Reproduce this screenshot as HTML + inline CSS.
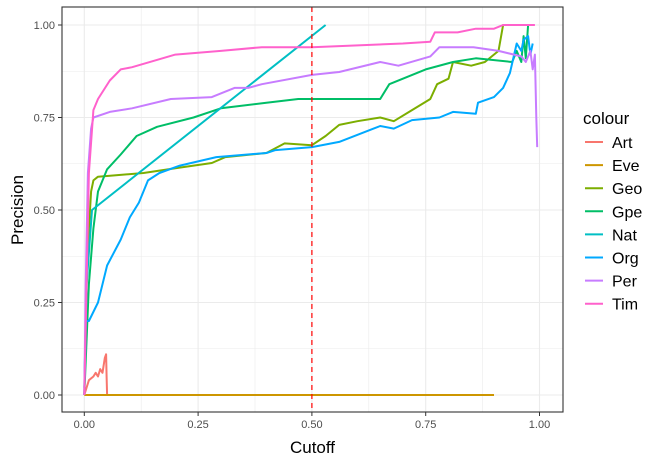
<!DOCTYPE html>
<html><head><meta charset="utf-8"><style>
body{margin:0;background:#fff;font-family:"Liberation Sans",sans-serif}
svg text{font-family:"Liberation Sans",sans-serif}
</style></head><body>
<svg id="c" width="665" height="460" viewBox="0 0 665 460"></svg>
<script>
const xTicks=[0,0.25,0.5,0.75,1];
const xTickLabels=["0.00","0.25","0.50","0.75","1.00"];
const yTicks=[0,0.25,0.5,0.75,1];
const yTickLabels=["0.00","0.25","0.50","0.75","1.00"];
const seriesNames=["Art","Eve","Geo","Gpe","Nat","Org","Per","Tim"];
const seriesColors=["#F8766D","#CD9600","#7CAE00","#00BE67","#00BFC4","#00A9FF","#C77CFF","#FF61CC"];
const artX=[0,0.005,0.01,0.02,0.025,0.03,0.035,0.04,0.045,0.048,0.049,0.05];
const artY=[0,0.02,0.04,0.05,0.06,0.05,0.07,0.06,0.1,0.11,0.05,0];
const eveX=[0,0.9];
const eveY=[0,0];
const geoX=[0,0.005,0.01,0.015,0.02,0.03,0.13,0.2,0.28,0.31,0.40,0.44,0.5,0.53,0.56,0.6,0.65,0.68,0.72,0.76,0.775,0.8,0.81,0.85,0.88,0.91,0.92,0.94];
const geoY=[0,0.3,0.45,0.55,0.58,0.59,0.60,0.613,0.627,0.643,0.654,0.68,0.675,0.70,0.73,0.74,0.75,0.74,0.77,0.80,0.84,0.855,0.90,0.89,0.90,0.93,1.0,1.0];
const gpeX=[0,0.01,0.02,0.03,0.05,0.08,0.115,0.16,0.24,0.30,0.40,0.47,0.65,0.67,0.75,0.81,0.86,0.94,0.95,0.96,0.965,0.97,0.975];
const gpeY=[0,0.3,0.45,0.55,0.61,0.65,0.70,0.725,0.75,0.775,0.79,0.80,0.80,0.84,0.88,0.90,0.91,0.90,0.93,0.90,0.97,0.91,1.0];
const natX=[0,0.005,0.017,0.53];
const natY=[0.02,0.3,0.50,1.0];
const orgX=[0,0.003,0.01,0.03,0.05,0.08,0.10,0.12,0.14,0.165,0.21,0.29,0.40,0.42,0.5,0.56,0.65,0.68,0.72,0.78,0.81,0.86,0.865,0.90,0.92,0.935,0.95,0.96,0.965,0.975,0.98,0.985];
const orgY=[0,0.2,0.2,0.25,0.35,0.42,0.48,0.52,0.58,0.60,0.62,0.643,0.654,0.662,0.67,0.684,0.727,0.72,0.743,0.75,0.765,0.76,0.79,0.805,0.83,0.87,0.95,0.93,0.96,0.97,0.92,0.95];
const perX=[0,0.003,0.008,0.015,0.02,0.056,0.105,0.19,0.28,0.33,0.36,0.39,0.5,0.56,0.65,0.69,0.76,0.78,0.855,0.91,0.96,0.97,0.98,0.985,0.99,0.993,0.995];
const perY=[0,0.3,0.6,0.72,0.75,0.765,0.775,0.80,0.805,0.83,0.83,0.84,0.865,0.873,0.90,0.89,0.915,0.94,0.94,0.93,0.915,0.90,0.93,0.88,0.92,0.75,0.67];
const timX=[0,0.005,0.01,0.02,0.03,0.056,0.08,0.105,0.2,0.3,0.39,0.5,0.7,0.76,0.77,0.82,0.86,0.9,0.92,0.99];
const timY=[0,0.3,0.6,0.77,0.8,0.85,0.88,0.886,0.92,0.93,0.94,0.94,0.95,0.955,0.98,0.98,0.99,0.99,1.0,1.0];
const seriesX=[artX,eveX,geoX,gpeX,natX,orgX,perX,timX];
const seriesY=[artY,eveY,geoY,gpeY,natY,orgY,perY,timY];
const cutoff=0.5;

const NS="http://www.w3.org/2000/svg";
const svg=document.getElementById("c");
const PL=62,PR=563,PT=7,PB=412;
const X0=84.3,X1=539.5,Y0=395,Y1=25;
function sx(v){return X0+v*(X1-X0);}
function sy(v){return Y0-v*(Y0-Y1);}
function mk(tag,attrs,parent){const e=document.createElementNS(NS,tag);for(const k in attrs)e.setAttribute(k,attrs[k]);(parent||svg).appendChild(e);return e;}

const grid=mk("g",{});


for(let i=0;i<xTicks.length;i++){
  mk("line",{x1:sx(xTicks[i]),x2:sx(xTicks[i]),y1:PT,y2:PB,stroke:"#ebebeb","stroke-width":1.1},grid);
  if(i<xTicks.length-1){const m=(xTicks[i]+xTicks[i+1])/2;mk("line",{x1:sx(m),x2:sx(m),y1:PT,y2:PB,stroke:"#ebebeb","stroke-width":0.6},grid);}
}
for(let i=0;i<yTicks.length;i++){
  mk("line",{x1:PL,x2:PR,y1:sy(yTicks[i]),y2:sy(yTicks[i]),stroke:"#ebebeb","stroke-width":1.1},grid);
  if(i<yTicks.length-1){const m=(yTicks[i]+yTicks[i+1])/2;mk("line",{x1:PL,x2:PR,y1:sy(m),y2:sy(m),stroke:"#ebebeb","stroke-width":0.6},grid);}
}

for(let s=0;s<seriesNames.length;s++){
  const pts=seriesX[s].map((x,i)=>sx(x).toFixed(1)+","+sy(seriesY[s][i]).toFixed(1)).join(" ");
  const p=mk("polyline",{points:pts,fill:"none",stroke:seriesColors[s],"stroke-width":2,"stroke-linejoin":"round"});
  
  
}

const cl=mk("line",{x1:sx(cutoff),x2:sx(cutoff),y1:PT,y2:PB,stroke:"#ff0000","stroke-width":1.2,"stroke-dasharray":"5,4"});



const frame=mk("rect",{x:PL,y:PT,width:PR-PL,height:PB-PT,fill:"none",stroke:"#333","stroke-width":1.1});



for(let i=0;i<xTicks.length;i++){
  mk("line",{x1:sx(xTicks[i]),x2:sx(xTicks[i]),y1:PB,y2:PB+4,stroke:"#333"});
  const t=mk("text",{x:sx(xTicks[i]),y:PB+16,"text-anchor":"middle","font-size":11,fill:"#4d4d4d"});
  t.textContent=xTickLabels[i];
  
  
}
for(let i=0;i<yTicks.length;i++){
  mk("line",{x1:PL-4,x2:PL,y1:sy(yTicks[i]),y2:sy(yTicks[i]),stroke:"#333"});
  const t=mk("text",{x:PL-7,y:sy(yTicks[i])+4,"text-anchor":"end","font-size":11,fill:"#4d4d4d"});
  t.textContent=yTickLabels[i];
  
  
}
const xt=mk("text",{x:(PL+PR)/2,y:453,"text-anchor":"middle","font-size":17,fill:"#000"});
xt.textContent="Cutoff";


const yt=mk("text",{x:23,y:210,"text-anchor":"middle","font-size":17,fill:"#000",transform:"rotate(-90 23 210)"});
yt.textContent="Precision";



const lg=mk("g",{});


const lt=mk("text",{x:583,y:124,"font-size":17,fill:"#000"},lg);
lt.textContent="colour";


for(let s=0;s<seriesNames.length;s++){
  const y=142+s*23.1;
  const k=mk("line",{x1:585,x2:603,y1:y,y2:y,stroke:seriesColors[s],"stroke-width":2},lg);
  
  
  const t=mk("text",{x:612,y:y+6,"font-size":16,fill:"#000"},lg);
  t.textContent=seriesNames[s];
  
  
}
</script>
</body></html>
